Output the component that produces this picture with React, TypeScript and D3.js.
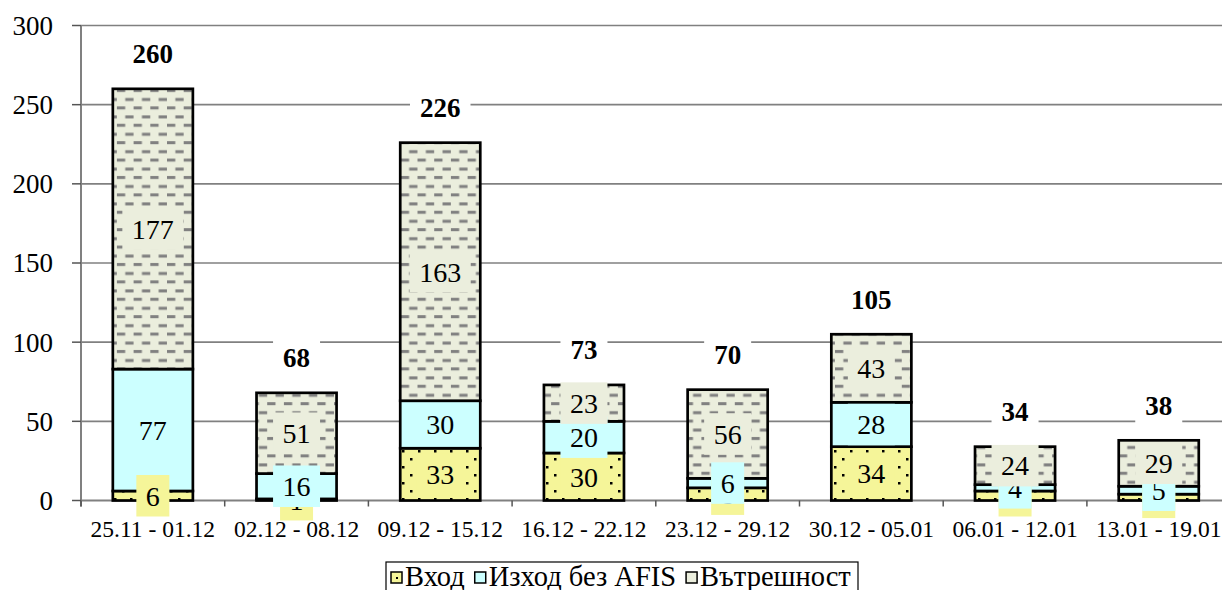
import React, { useEffect, useRef } from "react";
import * as d3 from "d3";

// weeks on the x axis
const categories = [
  "25.11 - 01.12",
  "02.12 - 08.12",
  "09.12 - 15.12",
  "16.12 - 22.12",
  "23.12 - 29.12",
  "30.12 - 05.01",
  "06.01 - 12.01",
  "13.01 - 19.01",
];
const seriesNames = ["Вход", "Изход без AFIS", "Вътрешност"];
const vhod = [6, 1, 33, 30, 8, 34, 6, 4];
const izhod = [77, 16, 30, 20, 6, 28, 4, 5];
const vatreshnost = [177, 51, 163, 23, 56, 43, 24, 29];
const yTicks = [0, 50, 100, 150, 200, 250, 300];

const W = 1222;
const H = 590;
const FONT = "'Liberation Serif', 'Times New Roman', serif";
const fills = ["url(#dots)", "#CCFFFF", "url(#dashes)"];
const labelFills = ["#F5F599", "#CCFFFF", "#EBEEDD"];

function App() {
  const ref = useRef<SVGSVGElement>(null);

  useEffect(() => {
    const svg = d3.select(ref.current);
    svg.selectAll("*").remove();

    const left = 81, top = 25.5, bottom = 500.5, right = 81 + 8 * 143.7;

    const x = d3.scaleBand().domain(categories).range([left, right]).paddingInner(0.443).paddingOuter(0.2215);
    const y = d3.scaleLinear().domain([0, 300]).range([bottom, top]);

    const rows = categories.map((c, i) => ({ cat: c, a: vhod[i], b: izhod[i], c2: vatreshnost[i] }));
    const stack = d3.stack<any>().keys(["a", "b", "c2"])(rows);

    // patterns
    const defs = svg.append("defs");
    const dots = defs.append("pattern").attr("id", "dots").attr("patternUnits", "userSpaceOnUse")
      .attr("width", 16).attr("height", 16);
    dots.append("rect").attr("width", 16).attr("height", 16).attr("fill", "#F5F599");
    dots.append("rect").attr("x", 2).attr("y", 2).attr("width", 2.5).attr("height", 2.5).attr("fill", "#000");
    dots.append("rect").attr("x", 10).attr("y", 10).attr("width", 2.5).attr("height", 2.5).attr("fill", "#000");

    const dashes = defs.append("pattern").attr("id", "dashes").attr("patternUnits", "userSpaceOnUse")
      .attr("width", 16.7).attr("height", 17.4);
    dashes.append("rect").attr("width", 16.7).attr("height", 17.4).attr("fill", "#EBEEDD");
    dashes.append("rect").attr("x", 0).attr("y", 2).attr("width", 8.3).attr("height", 3).attr("fill", "#808080");
    dashes.append("rect").attr("x", 8.35).attr("y", 11).attr("width", 8.3).attr("height", 3).attr("fill", "#808080");

    // grid
    svg.append("g").selectAll("line").data(yTicks.filter(t => t > 0)).join("line")
      .attr("x1", left).attr("x2", right)
      .attr("y1", d => y(d)).attr("y2", d => y(d))
      .attr("stroke", "#808080").attr("stroke-width", 1.6);

    // y axis
    const ya = svg.append("g");
    ya.append("line").attr("x1", left).attr("x2", left).attr("y1", top).attr("y2", bottom + 6)
      .attr("stroke", "#808080").attr("stroke-width", 2);
    ya.selectAll("line.tick").data(yTicks).join("line").attr("class", "tick")
      .attr("x1", left - 9).attr("x2", left).attr("y1", d => y(d)).attr("y2", d => y(d))
      .attr("stroke", "#555").attr("stroke-width", 1.5);
    ya.selectAll("text").data(yTicks).join("text")
      .attr("x", 53).attr("y", d => y(d)).attr("dy", "0.35em").attr("text-anchor", "end")
      .attr("font-family", FONT).attr("font-size", 27).text(d => d);

    // x axis
    const xa = svg.append("g");
    xa.append("line").attr("x1", left).attr("x2", right).attr("y1", bottom).attr("y2", bottom)
      .attr("stroke", "#808080").attr("stroke-width", 2);
    const step = x.step();
    xa.selectAll("line.tick").data(d3.range(categories.length + 1)).join("line").attr("class", "tick")
      .attr("x1", i => left + i * step).attr("x2", i => left + i * step)
      .attr("y1", bottom).attr("y2", bottom + 6).attr("stroke", "#555").attr("stroke-width", 1.5);
    xa.selectAll("text").data(categories).join("text")
      .attr("x", d => x(d)! + x.bandwidth() / 2).attr("y", 537).attr("text-anchor", "middle")
      .attr("font-family", FONT).attr("font-size", 23.5).text(d => d);

    // bars
    stack.forEach((s, si) => {
      svg.append("g").selectAll("rect").data(s).join("rect")
        .attr("x", d => x(d.data.cat)!).attr("width", x.bandwidth())
        .attr("y", d => y(d[1])).attr("height", d => y(d[0]) - y(d[1]))
        .attr("fill", fills[si]).attr("stroke", "#000").attr("stroke-width", 2.7);
    });

    const boxLabel = (g: any, cx: number, cy: number, txt: string, fill: string, size: number, weight: string, padX: number, h: number) => {
      const grp = g.append("g");
      const r = grp.append("rect");
      const t = grp.append("text").attr("x", cx).attr("y", cy).attr("dy", "0.35em").attr("text-anchor", "middle")
        .attr("font-family", FONT).attr("font-size", size).attr("font-weight", weight).text(txt);
      const w = (t.node() as SVGTextElement).getComputedTextLength();
      r.attr("x", cx - w / 2 - padX).attr("y", cy - h / 2).attr("width", w + 2 * padX).attr("height", h).attr("fill", fill);
    };

    // data labels, series after series
    stack.forEach((s, si) => {
      const g = svg.append("g");
      s.forEach(d => {
        const cx = x(d.data.cat)! + x.bandwidth() / 2;
        const cy = (y(d[0]) + y(d[1])) / 2;
        boxLabel(g, cx, cy, String(d[1] - d[0]), labelFills[si], 28, "normal", 9.5, 41.5);
      });
    });

    // totals
    const tg = svg.append("g");
    rows.forEach(r => {
      const tot = r.a + r.b + r.c2;
      boxLabel(tg, x(r.cat)! + x.bandwidth() / 2, y(tot) - 35, String(tot), "#fff", 27, "bold", 10, 40);
    });

    // legend
    const lg = svg.append("g");
    lg.append("rect").attr("x", 386).attr("y", 562).attr("width", 472).attr("height", 40)
      .attr("fill", "#fff").attr("stroke", "#000").attr("stroke-width", 1.2);
    let lx = 391;
    seriesNames.forEach((n, i) => {
      lg.append("rect").attr("x", lx).attr("y", 572).attr("width", 11).attr("height", 11)
        .attr("fill", i === 0 ? "#F5F599" : labelFills[i]).attr("stroke", "#000").attr("stroke-width", 1.5);
      if (i === 0) lg.append("rect").attr("x", lx + 5).attr("y", 577).attr("width", 2).attr("height", 2).attr("fill", "#000");
      const t = lg.append("text").attr("x", lx + 14).attr("y", 586).attr("font-family", FONT)
        .attr("font-size", 28.5).text(n);
      const w = (t.node() as SVGTextElement).getComputedTextLength();
      lx += 14 + w + 10;
    });
  }, []);

  return (
    <svg ref={ref} width={W} height={H} style={{ position: "absolute", left: 0, top: 0, background: "#fff" }} />
  );
}

export default App;
